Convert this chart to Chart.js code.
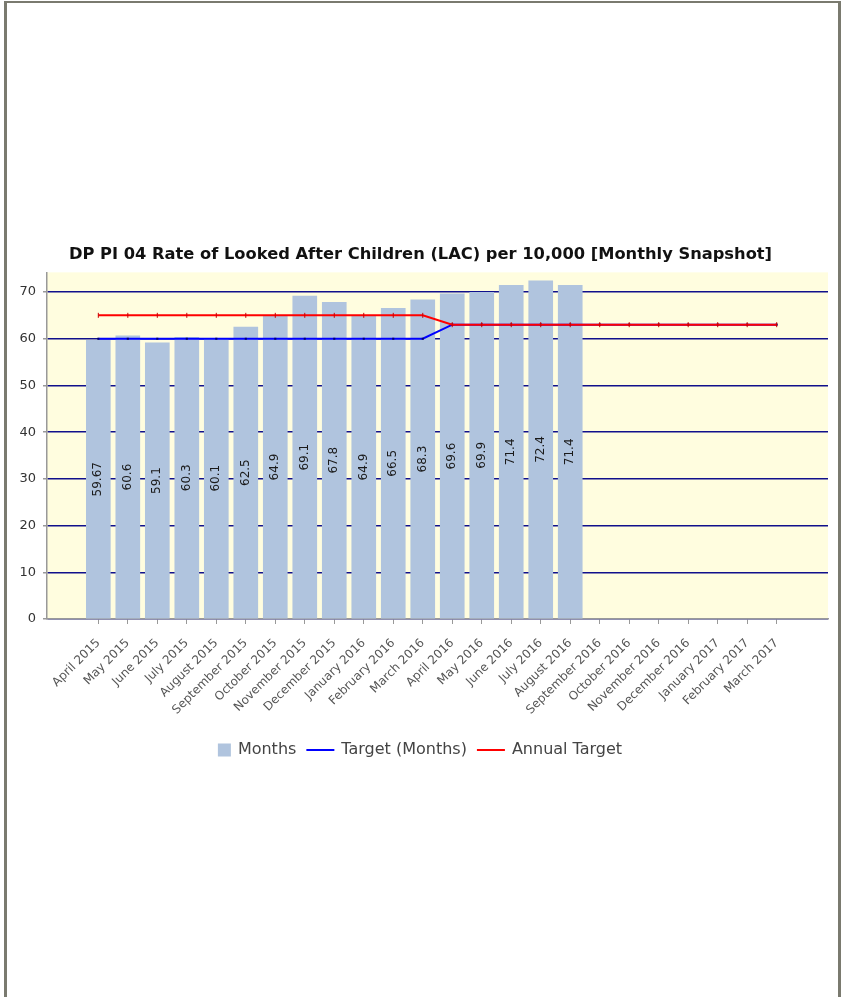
<!DOCTYPE html>
<html>
<head>
<meta charset="utf-8">
<title>DP PI 04 Rate of Looked After Children (LAC) per 10,000</title>
<script src="https://cdn.jsdelivr.net/npm/chart.js@4.4.1/dist/chart.umd.min.js"></script>
<style>
  html, body { margin: 0; padding: 0; background: #ffffff; width: 841px; height: 997px; overflow: hidden; }
  #chart { position: absolute; left: 0; top: 0; }
  #frame {
    position: absolute; left: 4px; top: 1px; width: 837px; height: 1010px;
    box-sizing: border-box; pointer-events: none;
    border-top: 2px solid #7a7a6f; border-left: 3px solid #7a7a6f; border-right: 3px solid #7a7a6f;
  }
</style>
</head>
<body>
<canvas id="chart" width="841" height="997"></canvas>
<div id="frame"></div>
<script>
// Reporting months, April 2015 – March 2017
const months = [
  'April 2015', 'May 2015', 'June 2015', 'July 2015', 'August 2015', 'September 2015',
  'October 2015', 'November 2015', 'December 2015', 'January 2016', 'February 2016', 'March 2016',
  'April 2016', 'May 2016', 'June 2016', 'July 2016', 'August 2016', 'September 2016',
  'October 2016', 'November 2016', 'December 2016', 'January 2017', 'February 2017', 'March 2017'
];

// LAC rate per 10,000 (monthly snapshot) – available months only
const monthlyRate = [59.67, 60.6, 59.1, 60.3, 60.1, 62.5, 64.9, 69.1, 67.8, 64.9, 66.5, 68.3,
                     69.6, 69.9, 71.4, 72.4, 71.4];

// Monthly target
const targetMonths = [60, 60, 60, 60, 60, 60, 60, 60, 60, 60, 60, 60,
                      63, 63, 63, 63, 63, 63, 63, 63, 63, 63, 63, 63];

// Annual target
const annualTarget = [65, 65, 65, 65, 65, 65, 65, 65, 65, 65, 65, 65,
                      63, 63, 63, 63, 63, 63, 63, 63, 63, 63, 63, 63];

// Value axis ticks
const yTicks = [0, 10, 20, 30, 40, 50, 60, 70];

const FONT = '"DejaVu Sans", Verdana, sans-serif';
Chart.defaults.font.family = FONT;

const asPoints = arr => arr.map((v, i) => ({ x: i, y: v }));

// Pale yellow plot background
const plotBackground = {
  id: 'plotBackground',
  beforeDraw(chart) {
    const { ctx, chartArea: a } = chart;
    ctx.save();
    ctx.fillStyle = '#FFFDDF';
    ctx.fillRect(a.left, a.top, a.right - a.left, a.bottom - a.top);
    ctx.restore();
  }
};

// Vertical value labels centred inside each bar
const barValueLabels = {
  id: 'barValueLabels',
  afterDatasetsDraw(chart) {
    const ctx = chart.ctx;
    chart.data.datasets.forEach((ds, di) => {
      if (ds.type !== 'bar') return;
      const meta = chart.getDatasetMeta(di);
      meta.data.forEach((el, i) => {
        const v = ds.data[i].y;
        ctx.save();
        ctx.translate(el.x, (el.y + el.base) / 2);
        ctx.rotate(-Math.PI / 2);
        ctx.font = '12px ' + FONT;
        ctx.fillStyle = '#1a1a1a';
        ctx.textAlign = 'center';
        ctx.textBaseline = 'middle';
        ctx.fillText(String(v), 0, 0);
        ctx.restore();
      });
    });
  }
};

// Single-row legend under the axis labels
const legendRow = {
  id: 'legendRow',
  afterDraw(chart) {
    const ctx = chart.ctx;
    ctx.save();
    ctx.font = '16px ' + FONT;
    const items = chart.data.datasets.map(ds => ({
      text: ds.label,
      kind: ds.type === 'bar' ? 'box' : 'line',
      color: ds.type === 'bar' ? ds.backgroundColor : ds.borderColor
    }));
    const symW = it => it.kind === 'box' ? 13 : 28;
    const gap = 7, sep = 10;
    let total = 0;
    items.forEach((it, i) => {
      it.w = ctx.measureText(it.text).width;
      total += symW(it) + gap + it.w + (i < items.length - 1 ? sep : 0);
    });
    let x = 420 - total / 2;
    const cy = 750;
    items.forEach(it => {
      if (it.kind === 'box') {
        ctx.fillStyle = it.color;
        ctx.fillRect(x, cy - 6.5, 13, 13);
      } else {
        ctx.strokeStyle = it.color;
        ctx.lineWidth = 2;
        ctx.beginPath();
        ctx.moveTo(x, cy);
        ctx.lineTo(x + 28, cy);
        ctx.stroke();
      }
      x += symW(it) + gap;
      ctx.fillStyle = '#444444';
      ctx.textAlign = 'left';
      ctx.textBaseline = 'middle';
      ctx.fillText(it.text, x, cy);
      x += it.w + sep;
    });
    ctx.restore();
  }
};

new Chart(document.getElementById('chart'), {
  data: {
    datasets: [
      {
        type: 'bar',
        label: 'Months',
        data: asPoints(monthlyRate),
        backgroundColor: '#B0C4DE',
        borderWidth: 0,
        barThickness: 24,
        order: 3
      },
      {
        type: 'line',
        label: 'Target (Months)',
        data: asPoints(targetMonths),
        borderColor: '#0000FF',
        borderWidth: 2,
        pointStyle: 'rect',
        pointRadius: 1.5,
        pointBackgroundColor: '#00006e',
        pointBorderColor: '#00006e',
        pointBorderWidth: 0,
        tension: 0,
        order: 2
      },
      {
        type: 'line',
        label: 'Annual Target',
        data: asPoints(annualTarget),
        borderColor: '#FF0000',
        borderWidth: 2,
        pointStyle: 'line',
        rotation: 90,
        pointRadius: 2.5,
        pointBorderColor: '#c80000',
        pointBorderWidth: 1,
        tension: 0,
        order: 1
      }
    ]
  },
  options: {
    responsive: false,
    animation: false,
    layout: { padding: { left: 0, right: 0, top: 0, bottom: 258 } },
    plugins: {
      legend: { display: false },
      tooltip: { enabled: false },
      title: {
        display: true,
        text: 'DP PI 04 Rate of Looked After Children (LAC) per 10,000 [Monthly Snapshot]',
        color: '#111111',
        font: { family: FONT, size: 16.3, weight: 'bold' },
        padding: { top: 244.9, bottom: 7.9 }
      }
    },
    scales: {
      x: {
        type: 'linear',
        offset: false,
        min: -1.74,
        max: 24.74,
        afterBuildTicks: s => { s.ticks = months.map((m, i) => ({ value: i })); },
        afterFit: s => { s.height = 120; },
        ticks: {
          autoSkip: false,
          maxRotation: 45,
          minRotation: 45,
          padding: 12,
          color: '#555555',
          font: { family: FONT, size: 12 },
          callback: v => months[v]
        },
        grid: { offset: false, drawOnChartArea: false, drawTicks: true, tickLength: 5, tickColor: '#999999' },
        border: { color: '#999999', width: 1.5 }
      },
      y: {
        type: 'linear',
        min: 0,
        max: 74.2,
        afterBuildTicks: s => { s.ticks = yTicks.map(v => ({ value: v })); },
        afterFit: s => { s.width = 47; },
        ticks: {
          padding: 7,
          color: '#333333',
          font: { family: FONT, size: 13 }
        },
        grid: { color: '#10108c', lineWidth: 1.5, tickLength: 4, tickColor: '#999999' },
        border: { color: '#999999', width: 1.5 }
      },
      // empty right-hand gutter so the plot stops short of the frame
      gutter: {
        type: 'linear',
        position: 'right',
        display: true,
        ticks: { display: false },
        grid: { display: false, drawTicks: false },
        border: { display: false },
        afterFit: s => { s.width = 13; }
      }
    }
  },
  plugins: [plotBackground, barValueLabels, legendRow]
});
</script>
</body>
</html>
